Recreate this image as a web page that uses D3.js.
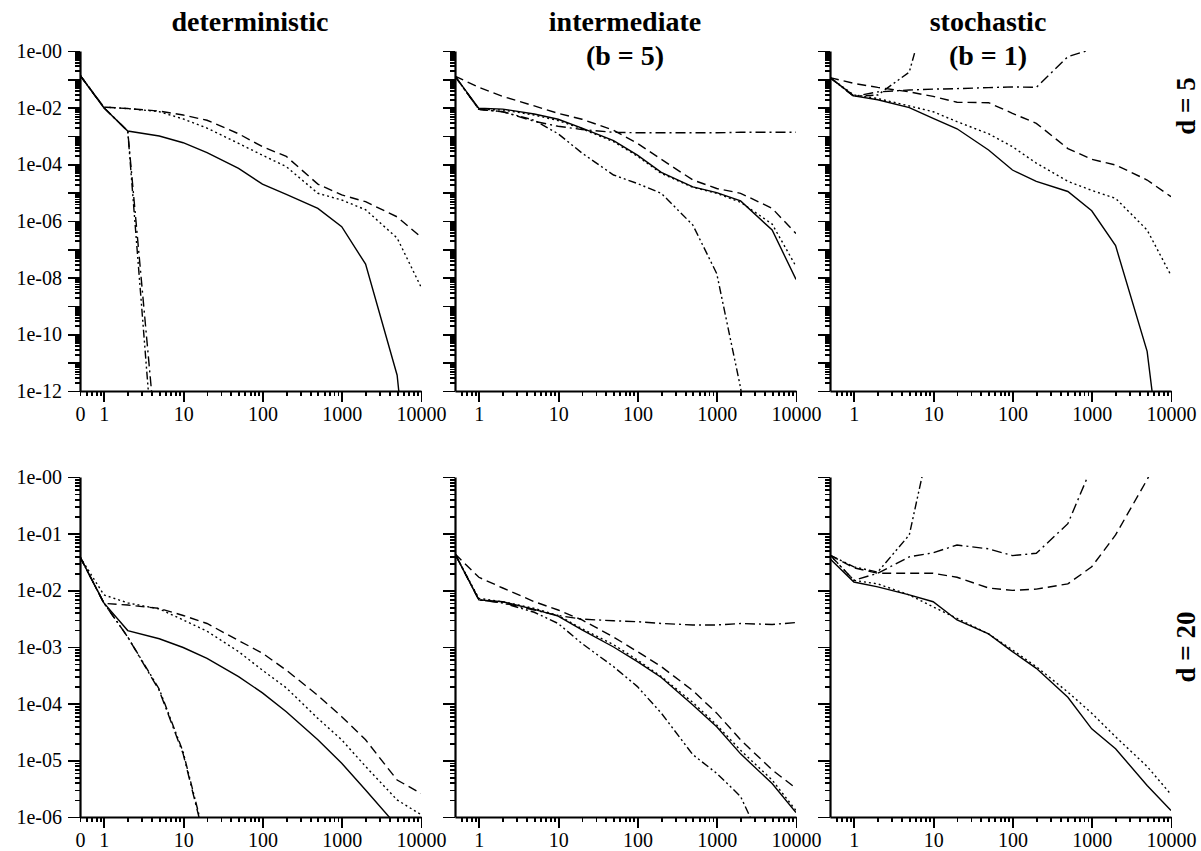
<!DOCTYPE html>
<html>
<head>
<meta charset="utf-8">
<script src="https://cdn.jsdelivr.net/npm/d3@7"></script>
<style>
body { margin: 0; background: #fff; }
text { font-family: "Liberation Serif", "Times New Roman", serif; }
</style>
</head>
<body>
<div id="chart"></div>
<script>
// x positions of the samples (0 is drawn at 0.5 on the log axis)
var steps = [0, 1, 2, 5, 10, 20, 50, 100, 200, 500, 1000, 2000, 5000, 10000];
var columnTitles = ["deterministic", "intermediate", "stochastic"];
var columnSubtitles = ["", "(b = 5)", "(b = 1)"];
var rowLabels = ["d = 5", "d = 20"];
var xMajorTicks = [1, 10, 100, 1000, 10000];
var styleNames = ["solid", "dotted", "dashed", "dashdot", "dashdotdot"];

// ---- d = 5 ----
var detD5Solid      = [1.4e-1, 1.0e-2, 1.5e-3, 1.0e-3, 5.8e-4, 2.6e-4, 7.2e-5, 2.0e-5, 8.7e-6, 2.8e-6, 6.3e-7, 3.0e-8, 3.6e-12, 3e-20];
var detD5Dotted     = [1.4e-1, 1.05e-2, 9.3e-3, 7.2e-3, 4.0e-3, 1.9e-3, 5.5e-4, 2.1e-4, 8.3e-5, 9.5e-6, 5.5e-6, 2.5e-6, 2.5e-7, 4.7e-9];
var detD5Dashed     = [1.4e-1, 1.05e-2, 9.3e-3, 7.6e-3, 5.5e-3, 3.6e-3, 1.2e-3, 4.2e-4, 1.9e-4, 2.0e-5, 8.3e-6, 4.8e-6, 1.4e-6, 2.7e-7];
var detD5DashDot    = [1.4e-1, 1.0e-2, 1.5e-3, 1e-15, null, null, null, null, null, null, null, null, null, null];
var detD5DashDotDot = [1.4e-1, 1.0e-2, 1.5e-3, 1.3e-17, null, null, null, null, null, null, null, null, null, null];

var intD5Solid      = [1.3e-1, 9.5e-3, 8.9e-3, 6.0e-3, 3.9e-3, 1.9e-3, 6.9e-4, 2.1e-4, 5.2e-5, 1.6e-5, 1.0e-5, 5.1e-6, 4.8e-7, 8.7e-9];
var intD5Dotted     = [1.3e-1, 8.7e-3, 8.3e-3, 5.5e-3, 3.5e-3, 1.8e-3, 6.3e-4, 1.95e-4, 4.8e-5, 1.55e-5, 9.5e-6, 4.6e-6, 7.8e-7, 2.5e-8];
var intD5Dashed     = [1.3e-1, 5.2e-2, 2.5e-2, 1.15e-2, 6.3e-3, 3.9e-3, 1.6e-3, 5.5e-4, 1.5e-4, 2.8e-5, 1.4e-5, 9.5e-6, 2.8e-6, 3.6e-7];
var intD5DashDot    = [1.3e-1, 8.7e-3, 7.2e-3, 3.3e-3, 2.2e-3, 1.7e-3, 1.35e-3, 1.3e-3, 1.3e-3, 1.3e-3, 1.3e-3, 1.35e-3, 1.35e-3, 1.35e-3];
var intD5DashDotDot = [1.3e-1, 8.7e-3, 7.2e-3, 3.6e-3, 1.2e-3, 2.5e-4, 4.2e-5, 2.1e-5, 9.5e-6, 7.2e-7, 1.4e-8, 1.3e-12, 1e-20, null];

var stoD5Solid      = [1.15e-1, 2.6e-2, 1.9e-2, 1.0e-2, 4.2e-3, 1.8e-3, 3.2e-4, 6.3e-5, 2.5e-5, 1.1e-5, 2.3e-6, 1.35e-7, 2.5e-11, 4e-18];
var stoD5Dotted     = [1.15e-1, 2.8e-2, 2.1e-2, 1.15e-2, 7.2e-3, 3.2e-3, 1.2e-3, 4.2e-4, 1.1e-4, 2.5e-5, 1.2e-5, 6.3e-6, 4.8e-7, 1.2e-8];
var stoD5Dashed     = [1.15e-1, 7.2e-2, 5.2e-2, 3.6e-2, 2.5e-2, 1.55e-2, 1.5e-2, 6.3e-3, 2.8e-3, 3.6e-4, 1.5e-4, 9.5e-5, 2.8e-5, 7.2e-6];
var stoD5DashDot    = [1.15e-1, 2.5e-2, 3.6e-2, 4.2e-2, 4.5e-2, 4.7e-2, 5.1e-2, 5.4e-2, 5.2e-2, 6.3e-1, 1.15, null, null, null];
var stoD5DashDotDot = [1.15e-1, 2.5e-2, 2.8e-2, 1.8e-1, 200, null, null, null, null, null, null, null, null, null];

// ---- d = 20 ----
var detD20Solid      = [3.9e-2, 6.0e-3, 1.95e-3, 1.4e-3, 9.8e-4, 6.3e-4, 3.0e-4, 1.55e-4, 7.2e-5, 2.3e-5, 8.9e-6, 3.0e-6, 6.9e-7, 2.0e-7];
var detD20Dotted     = [3.9e-2, 8.3e-3, 6.0e-3, 4.7e-3, 3.0e-3, 1.9e-3, 8.3e-4, 3.9e-4, 1.9e-4, 5.5e-5, 2.3e-5, 7.8e-6, 2.0e-6, 1.1e-6];
var detD20Dashed     = [3.9e-2, 5.9e-3, 5.5e-3, 4.8e-3, 3.6e-3, 2.6e-3, 1.3e-3, 7.8e-4, 3.9e-4, 1.4e-4, 5.9e-5, 2.3e-5, 4.5e-6, 2.6e-6];
var detD20DashDot    = [3.9e-2, 6.0e-3, 1.5e-3, 1.7e-4, 1.3e-5, 2.7e-7, null, null, null, null, null, null, null, null];
var detD20DashDotDot = [3.9e-2, 6.0e-3, 1.5e-3, 1.8e-4, 1.4e-5, 3.0e-7, null, null, null, null, null, null, null, null];

var intD20Solid      = [4.4e-2, 6.8e-3, 6.3e-3, 4.6e-3, 3.5e-3, 2.0e-3, 1.0e-3, 5.5e-4, 2.9e-4, 9.5e-5, 3.9e-5, 1.3e-5, 3.9e-6, 1.2e-6];
var intD20Dotted     = [4.4e-2, 7.2e-3, 6.3e-3, 4.8e-3, 3.6e-3, 2.1e-3, 1.1e-3, 5.9e-4, 3.0e-4, 1.05e-4, 4.2e-5, 1.5e-5, 4.5e-6, 1.3e-6];
var intD20Dashed     = [4.4e-2, 1.7e-2, 1.1e-2, 6.3e-3, 4.5e-3, 3.0e-3, 1.5e-3, 8.3e-4, 4.5e-4, 1.7e-4, 6.8e-5, 2.3e-5, 6.8e-6, 3.2e-6];
var intD20DashDot    = [4.4e-2, 6.8e-3, 6.0e-3, 4.5e-3, 3.6e-3, 3.1e-3, 2.9e-3, 2.8e-3, 2.6e-3, 2.45e-3, 2.45e-3, 2.6e-3, 2.5e-3, 2.7e-3];
var intD20DashDotDot = [4.4e-2, 6.8e-3, 6.0e-3, 4.1e-3, 2.6e-3, 1.15e-3, 4.5e-4, 2.0e-4, 6.8e-5, 1.26e-5, 5.9e-6, 2.3e-6, 1.45e-7, null];

var stoD20Solid      = [3.6e-2, 1.4e-2, 1.15e-2, 8.3e-3, 6.3e-3, 3.0e-3, 1.7e-3, 8.3e-4, 4.2e-4, 1.3e-4, 3.6e-5, 1.6e-5, 3.6e-6, 1.3e-6];
var stoD20Dotted     = [4.2e-2, 1.5e-2, 1.3e-2, 8.3e-3, 5.1e-3, 3.2e-3, 1.7e-3, 8.9e-4, 4.5e-4, 1.6e-4, 6.8e-5, 2.6e-5, 7.8e-6, 2.5e-6];
var stoD20Dashed     = [4.2e-2, 2.5e-2, 2.0e-2, 2.0e-2, 2.0e-2, 1.7e-2, 1.1e-2, 1.0e-2, 1.05e-2, 1.3e-2, 2.6e-2, 9.5e-2, 9.0e-1, 6.3];
var stoD20DashDot    = [4.2e-2, 1.5e-2, 2.0e-2, 3.9e-2, 4.6e-2, 6.3e-2, 5.4e-2, 4.1e-2, 4.5e-2, 1.5e-1, 1.5, null, null, null];
var stoD20DashDotDot = [4.2e-2, 2.6e-2, 2.1e-2, 9.5e-2, 8, null, null, null, null, null, null, null, null, null];

var width = 1201, height = 851;
var panelLeft = [80, 455, 830], panelWidth = 341;
var rowTop = [51, 477], panelHeight = 340;
var rowMinExp = [-12, -6];   // y axis bottom, as power of ten
var rowLabelStep = [2, 1];   // label every n decades

var dashes = {
  solid: null,
  dotted: "2,3",
  dashed: "9,5",
  dashdot: "10,4,2,4",
  dashdotdot: "8,3,2,3,2,3"
};

var panels = [
  [[detD5Solid, detD5Dotted, detD5Dashed, detD5DashDot, detD5DashDotDot],
   [intD5Solid, intD5Dotted, intD5Dashed, intD5DashDot, intD5DashDotDot],
   [stoD5Solid, stoD5Dotted, stoD5Dashed, stoD5DashDot, stoD5DashDotDot]],
  [[detD20Solid, detD20Dotted, detD20Dashed, detD20DashDot, detD20DashDotDot],
   [intD20Solid, intD20Dotted, intD20Dashed, intD20DashDot, intD20DashDotDot],
   [stoD20Solid, stoD20Dotted, stoD20Dashed, stoD20DashDot, stoD20DashDotDot]]
];

var svg = d3.select("#chart").append("svg")
  .attr("width", width)
  .attr("height", height);

var expLabel = function(v) {
  var e = Math.round(-Math.log10(v));
  return "1e-" + String(e).padStart(2, "0");
};

// minor x ticks
var xMinor = [0.6, 0.7, 0.8, 0.9];
for (var e = 0; e < 4; e++) for (var k = 2; k <= 9; k++) xMinor.push(k * Math.pow(10, e));

panels.forEach(function(row, r) {
  var top = rowTop[r];
  var y = d3.scaleLog().domain([Math.pow(10, rowMinExp[r]), 1]).range([top + panelHeight, top]);

  var yMajor = [], yLabelled = [], yMinor = [];
  for (var ex = rowMinExp[r]; ex <= 0; ex++) {
    yMajor.push(Math.pow(10, ex));
    if ((-ex) % rowLabelStep[r] === 0) yLabelled.push(Math.pow(10, ex));
    if (ex < 0) for (var k = 2; k <= 9; k++) yMinor.push(k * Math.pow(10, ex));
  }

  row.forEach(function(series, c) {
    var left = panelLeft[c];
    var x = d3.scaleLog().domain([0.5, 10000]).range([left, left + panelWidth]);
    var g = svg.append("g");

    var clipId = "clip" + r + c;
    g.append("clipPath").attr("id", clipId)
      .append("rect")
      .attr("x", left).attr("y", top)
      .attr("width", panelWidth).attr("height", panelHeight);

    var line = d3.line()
      .defined(function(d) { return d[1] != null; })
      .x(function(d) { return x(d[0] === 0 ? 0.5 : d[0]); })
      .y(function(d) { return y(d[1]); });

    var lines = g.append("g").attr("clip-path", "url(#" + clipId + ")");
    series.forEach(function(vals, i) {
      lines.append("path")
        .datum(steps.map(function(s, j) { return [s, vals[j]]; }))
        .attr("fill", "none")
        .attr("stroke", "#000")
        .attr("stroke-width", 1.4)
        .attr("stroke-dasharray", dashes[styleNames[i]])
        .attr("d", line);
    });

    // x axis: minor ticks, then major ticks with labels
    var xMinorAxis = d3.axisBottom(x).tickValues(xMinor).tickSize(5).tickFormat(function() { return ""; }).tickSizeOuter(0);
    var gxm = g.append("g").attr("transform", "translate(0," + (top + panelHeight) + ")").call(xMinorAxis);
    gxm.select(".domain").remove();

    var xVals = c === 0 ? [0.5].concat(xMajorTicks) : xMajorTicks;
    var xAxis = d3.axisBottom(x).tickValues(xVals).tickSize(11).tickPadding(5).tickSizeOuter(0)
      .tickFormat(function(d) { return d === 0.5 ? "0" : d3.format("d")(d); });
    var gx = g.append("g").attr("transform", "translate(0," + (top + panelHeight) + ")").call(xAxis);
    gx.selectAll(".tick line").filter(function(d) { return d === 0.5; }).attr("y2", 5);

    // y axis
    var yMinorAxis = d3.axisLeft(y).tickValues(yMinor).tickSize(5).tickFormat(function() { return ""; }).tickSizeOuter(0);
    var gym = g.append("g").attr("transform", "translate(" + left + ",0)").call(yMinorAxis);
    gym.select(".domain").remove();

    var yAxis = d3.axisLeft(y).tickValues(yMajor).tickSize(12).tickPadding(6).tickSizeOuter(0)
      .tickFormat(function(d) {
        if (c !== 0) return "";
        return yLabelled.indexOf(d) >= 0 ? expLabel(d) : "";
      });
    var gy = g.append("g").attr("transform", "translate(" + left + ",0)").call(yAxis);

    g.selectAll(".domain").attr("stroke", "#000").attr("stroke-width", 2.2);
    g.selectAll(".tick line")
      .attr("stroke", "#000")
      .attr("stroke-width", 1.8)
      .attr("shape-rendering", "crispEdges");
    g.selectAll(".tick text")
      .attr("fill", "#000")
      .style("font-family", "'Liberation Serif', 'Times New Roman', serif")
      .style("font-size", "20px");
  });
});

// column titles
var titleX = [250, 625, 988];
columnTitles.forEach(function(t, c) {
  svg.append("text")
    .attr("x", titleX[c]).attr("y", 31)
    .attr("text-anchor", "middle")
    .style("font-weight", "bold").style("font-size", "28px")
    .text(t);
  if (columnSubtitles[c]) {
    svg.append("text")
      .attr("x", titleX[c]).attr("y", 65)
      .attr("text-anchor", "middle")
      .style("font-weight", "bold").style("font-size", "28px")
      .text(columnSubtitles[c]);
  }
});

// row labels
var rowLabelY = [106, 647];
rowLabels.forEach(function(t, r) {
  svg.append("text")
    .attr("transform", "translate(1195," + rowLabelY[r] + ") rotate(-90)")
    .attr("text-anchor", "middle")
    .style("font-weight", "bold").style("font-size", "27px")
    .text(t);
});
</script>
</body>
</html>
